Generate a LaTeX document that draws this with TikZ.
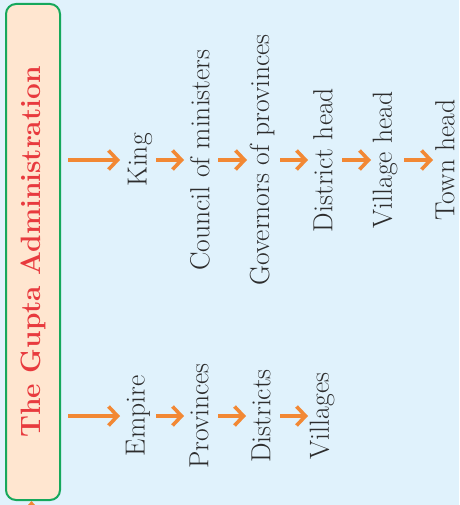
\documentclass[tikz,border=0pt]{standalone}
\usetikzlibrary{arrows.meta}
\definecolor{bgblue}{RGB}{224,242,252}
\definecolor{peach}{RGB}{255,230,208}
\definecolor{boxgreen}{RGB}{22,168,92}
\definecolor{titlered}{RGB}{232,58,62}
\definecolor{arrorange}{RGB}{242,136,52}
\definecolor{txtgray}{RGB}{45,45,45}
\begin{document}
\begin{tikzpicture}[x=1pt,y=-1pt,
  lbl/.style={rotate=90, font=\fontsize{27.6}{32}\selectfont, text=txtgray, inner sep=0pt},
  arr/.style={draw=arrorange, line width=3.6pt, -{Straight Barb[length=9pt,width=19pt]}},
  titlebox/.style={rotate=90, draw=boxgreen, fill=peach, line width=2pt, rounded corners=10pt,
    minimum width=496pt, minimum height=54pt, inner sep=0pt, text=titlered,
    font=\fontsize{28}{32}\selectfont\bfseries}
]
\fill[bgblue] (0,0) rectangle (459,505);
\useasboundingbox (0,0) rectangle (459,505);
\node[titlebox] (title) at (33,252) {The Gupta Administration};
\fill[arrorange] (28,505) -- (31.5,501) -- (35,505) -- cycle;
% top row
\node[lbl] (king) at (140,160) {King};
\node[lbl] (council) at (200,160) {Council of ministers};
\node[lbl] (gov) at (262,160) {Governors of provinces};
\node[lbl] (dist) at (323,160) {District head};
\node[lbl] (vill) at (385,160) {Village head};
\node[lbl] (town) at (445,160) {Town head};
% bottom row
\node[lbl] (empire) at (138,416) {Empire};
\node[lbl] (prov) at (199,416) {Provinces};
\node[lbl] (dists) at (261,416) {Districts};
\node[lbl] (vills) at (322,416) {Villages};
% arrows
\draw[arr, shorten <=7pt, shorten >=20pt] (title.south |- king.center) -- (king.center);
\draw[arr, shorten <=16pt, shorten >=16pt] (king.center) -- (council.center);
\draw[arr, shorten <=18pt, shorten >=15pt] (council.center) -- (gov.center);
\draw[arr, shorten <=18pt, shorten >=15pt] (gov.center) -- (dist.center);
\draw[arr, shorten <=19pt, shorten >=14pt] (dist.center) -- (vill.center);
\draw[arr, shorten <=19pt, shorten >=12pt] (vill.center) -- (town.center);
\draw[arr, shorten <=7pt, shorten >=18pt] (title.south |- empire.center) -- (empire.center);
\draw[arr, shorten <=18pt, shorten >=15pt] (empire.center) -- (prov.center);
\draw[arr, shorten <=19pt, shorten >=15pt] (prov.center) -- (dists.center);
\draw[arr, shorten <=19pt, shorten >=14pt] (dists.center) -- (vills.center);
\end{tikzpicture}
\end{document}
